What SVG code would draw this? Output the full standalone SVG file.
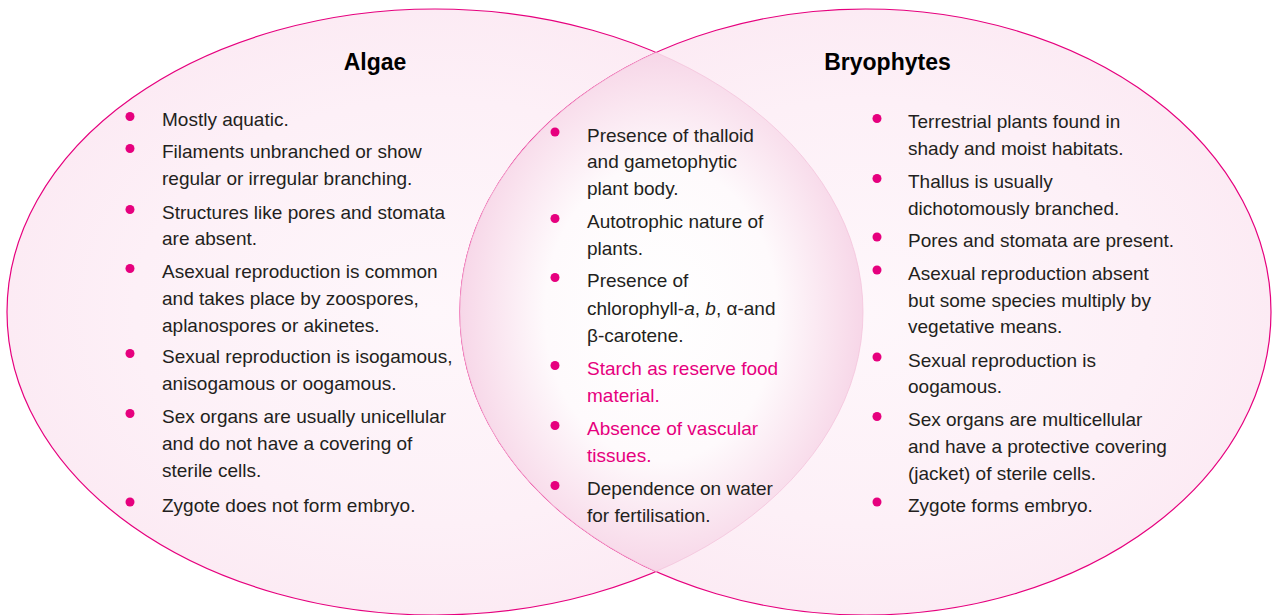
<svg xmlns="http://www.w3.org/2000/svg" width="1272" height="615" viewBox="0 0 1272 615">
<defs>
<radialGradient id="gOuter" cx="0.5" cy="0.5" r="0.5">
<stop offset="0" stop-color="#fef7fb"/>
<stop offset="0.7" stop-color="#fdf0f7"/>
<stop offset="1" stop-color="#fcebf4"/>
</radialGradient>
<radialGradient id="gInner" gradientUnits="userSpaceOnUse" cx="661" cy="312" r="270" fx="661" fy="312" gradientTransform="translate(661 312) scale(0.78 1) translate(-661 -312)">
<stop offset="0" stop-color="#ffffff"/>
<stop offset="0.55" stop-color="#fefafc"/>
<stop offset="0.85" stop-color="#f9e0ed"/>
<stop offset="1" stop-color="#f6d3e6"/>
</radialGradient>
<clipPath id="clipLeft">
<ellipse cx="435" cy="312" rx="428" ry="303"/>
</clipPath>
<clipPath id="clipRight">
<ellipse cx="865.5" cy="312" rx="405.5" ry="303"/>
</clipPath>
</defs>
<style>
.txt{font-family:"Liberation Sans",Arial,sans-serif;font-size:19px;fill:#231f20}
.pink{fill:#e6007e}
.title{font-family:"Liberation Sans",Arial,sans-serif;font-size:23px;font-weight:bold;fill:#000000;text-anchor:middle}
.dot{fill:#e6007e}
.outline{stroke:#e6007e;stroke-width:1.2;fill:url(#gOuter)}
.inner{fill:none;stroke:#f4c4dc;stroke-width:0.8}
</style>
<rect width="1272" height="615" fill="#ffffff"/>
<g id="connectors"></g>
<g id="algae-set">
<ellipse class="outline" cx="435" cy="312" rx="428" ry="303"/>
</g>
<g id="bryophytes-set">
<ellipse class="outline" cx="865.5" cy="312" rx="405.5" ry="303"/>
</g>
<g id="common-region">
<ellipse cx="865.5" cy="312" rx="405.5" ry="303" clip-path="url(#clipLeft)" fill="url(#gInner)"/>
<ellipse class="inner" cx="865.5" cy="312" rx="405.5" ry="303" clip-path="url(#clipLeft)"/>
<ellipse class="inner" cx="435" cy="312" rx="428" ry="303" clip-path="url(#clipRight)"/>
</g>
<g id="algae-text">
<text class="title" x="375" y="70">Algae</text>
<circle class="dot" cx="130" cy="116.5" r="4.5"/>
<text class="txt" x="162" y="126">Mostly aquatic.</text>
<circle class="dot" cx="130" cy="148.5" r="4.5"/>
<text class="txt" x="162" y="158">Filaments unbranched or show</text>
<text class="txt" x="162" y="185">regular or irregular branching.</text>
<circle class="dot" cx="130" cy="209.5" r="4.5"/>
<text class="txt" x="162" y="219">Structures like pores and stomata</text>
<text class="txt" x="162" y="245">are absent.</text>
<circle class="dot" cx="130" cy="268.5" r="4.5"/>
<text class="txt" x="162" y="278">Asexual reproduction is common</text>
<text class="txt" x="162" y="305">and takes place by zoospores,</text>
<text class="txt" x="162" y="332">aplanospores or akinetes.</text>
<circle class="dot" cx="130" cy="353.5" r="4.5"/>
<text class="txt" x="162" y="363">Sexual reproduction is isogamous,</text>
<text class="txt" x="162" y="390">anisogamous or oogamous.</text>
<circle class="dot" cx="130" cy="413.5" r="4.5"/>
<text class="txt" x="162" y="423">Sex organs are usually unicellular</text>
<text class="txt" x="162" y="450">and do not have a covering of</text>
<text class="txt" x="162" y="477">sterile cells.</text>
<circle class="dot" cx="130" cy="502" r="4.5"/>
<text class="txt" x="162" y="511.5">Zygote does not form embryo.</text>
</g>
<g id="common-text">
<circle class="dot" cx="555" cy="132" r="4.5"/>
<text class="txt" x="587" y="141.5">Presence of thalloid</text>
<text class="txt" x="587" y="168">and gametophytic</text>
<text class="txt" x="587" y="195">plant body.</text>
<circle class="dot" cx="555" cy="218.5" r="4.5"/>
<text class="txt" x="587" y="228">Autotrophic nature of</text>
<text class="txt" x="587" y="255">plants.</text>
<circle class="dot" cx="555" cy="277.5" r="4.5"/>
<text class="txt" x="587" y="287">Presence of</text>
<text class="txt" x="587" y="315">chlorophyll-<tspan font-style="italic">a</tspan>, <tspan font-style="italic">b</tspan>, α-and</text>
<text class="txt" x="587" y="341.5">β-carotene.</text>
<circle class="dot" cx="555" cy="365.5" r="4.5"/>
<text class="txt pink" x="587" y="375">Starch as reserve food</text>
<text class="txt pink" x="587" y="401.5">material.</text>
<circle class="dot" cx="555" cy="425.5" r="4.5"/>
<text class="txt pink" x="587" y="435">Absence of vascular</text>
<text class="txt pink" x="587" y="461.5">tissues.</text>
<circle class="dot" cx="555" cy="485.5" r="4.5"/>
<text class="txt" x="587" y="495">Dependence on water</text>
<text class="txt" x="587" y="521.5">for fertilisation.</text>
</g>
<g id="bryophytes-text">
<text class="title" x="887.5" y="70">Bryophytes</text>
<circle class="dot" cx="877" cy="118.5" r="4.5"/>
<text class="txt" x="908" y="128">Terrestrial plants found in</text>
<text class="txt" x="908" y="155">shady and moist habitats.</text>
<circle class="dot" cx="877" cy="178.5" r="4.5"/>
<text class="txt" x="908" y="188">Thallus is usually</text>
<text class="txt" x="908" y="215">dichotomously branched.</text>
<circle class="dot" cx="877" cy="237" r="4.5"/>
<text class="txt" x="908" y="246.5">Pores and stomata are present.</text>
<circle class="dot" cx="877" cy="270" r="4.5"/>
<text class="txt" x="908" y="279.5">Asexual reproduction absent</text>
<text class="txt" x="908" y="306.5">but some species multiply by</text>
<text class="txt" x="908" y="333">vegetative means.</text>
<circle class="dot" cx="877" cy="357" r="4.5"/>
<text class="txt" x="908" y="366.5">Sexual reproduction is</text>
<text class="txt" x="908" y="393">oogamous.</text>
<circle class="dot" cx="877" cy="416.5" r="4.5"/>
<text class="txt" x="908" y="426">Sex organs are multicellular</text>
<text class="txt" x="908" y="453">and have a protective covering</text>
<text class="txt" x="908" y="480">(jacket) of sterile cells.</text>
<circle class="dot" cx="877" cy="502" r="4.5"/>
<text class="txt" x="908" y="511.5">Zygote forms embryo.</text>
</g>
</svg>
